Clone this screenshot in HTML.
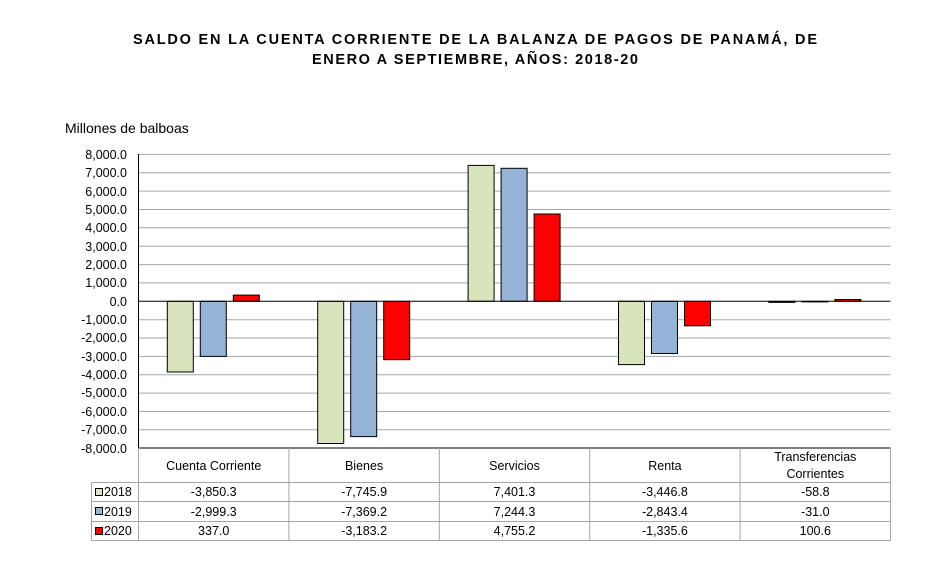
<!DOCTYPE html>
<html><head><meta charset="utf-8"><style>
body{margin:0;background:#fff;}
svg{display:block;font-family:"Liberation Sans",Arial,sans-serif;}
</style></head><body>
<svg width="926" height="583" viewBox="0 0 926 583" xmlns="http://www.w3.org/2000/svg">
<rect width="926" height="583" fill="#fff"/>
<text x="133" y="44" font-size="14.5" font-weight="bold" textLength="684" lengthAdjust="spacing">SALDO  EN  LA  CUENTA  CORRIENTE  DE  LA  BALANZA  DE  PAGOS  DE  PANAMÁ,  DE</text>
<text x="312" y="64" font-size="14.5" font-weight="bold" textLength="326" lengthAdjust="spacing">ENERO  A  SEPTIEMBRE,  AÑOS:  2018-20</text>
<text x="65" y="133" font-size="14">Millones de balboas</text>
<g stroke="#a6a6a6" stroke-width="1">
<line x1="138.5" x2="890.5" y1="154.4" y2="154.4"/>
<line x1="138.5" x2="890.5" y1="172.8" y2="172.8"/>
<line x1="138.5" x2="890.5" y1="191.1" y2="191.1"/>
<line x1="138.5" x2="890.5" y1="209.5" y2="209.5"/>
<line x1="138.5" x2="890.5" y1="227.8" y2="227.8"/>
<line x1="138.5" x2="890.5" y1="246.2" y2="246.2"/>
<line x1="138.5" x2="890.5" y1="264.6" y2="264.6"/>
<line x1="138.5" x2="890.5" y1="282.9" y2="282.9"/>
<line x1="138.5" x2="890.5" y1="319.7" y2="319.7"/>
<line x1="138.5" x2="890.5" y1="338.0" y2="338.0"/>
<line x1="138.5" x2="890.5" y1="356.4" y2="356.4"/>
<line x1="138.5" x2="890.5" y1="374.7" y2="374.7"/>
<line x1="138.5" x2="890.5" y1="393.1" y2="393.1"/>
<line x1="138.5" x2="890.5" y1="411.5" y2="411.5"/>
<line x1="138.5" x2="890.5" y1="429.8" y2="429.8"/>
</g>
<g font-size="12.5" text-anchor="end">
<text x="127" y="159">8,000.0</text><text x="127" y="177">7,000.0</text><text x="127" y="196">6,000.0</text><text x="127" y="214">5,000.0</text><text x="127" y="232">4,000.0</text><text x="127" y="251">3,000.0</text><text x="127" y="269">2,000.0</text><text x="127" y="287">1,000.0</text><text x="127" y="306">0.0</text><text x="127" y="324">-1,000.0</text><text x="127" y="342">-2,000.0</text><text x="127" y="361">-3,000.0</text><text x="127" y="379">-4,000.0</text><text x="127" y="397">-5,000.0</text><text x="127" y="416">-6,000.0</text><text x="127" y="434">-7,000.0</text><text x="127" y="453">-8,000.0</text>
</g>
<g stroke="#000" stroke-width="1">
<rect x="167.3" y="301.3" width="26" height="70.7" fill="#d8e4bc"/>
<rect x="200.3" y="301.3" width="26" height="55.1" fill="#95b3d7"/>
<rect x="233.3" y="295.1" width="26" height="6.2" fill="#ff0000"/>
<rect x="317.7" y="301.3" width="26" height="142.2" fill="#d8e4bc"/>
<rect x="350.7" y="301.3" width="26" height="135.3" fill="#95b3d7"/>
<rect x="383.7" y="301.3" width="26" height="58.4" fill="#ff0000"/>
<rect x="468.1" y="165.4" width="26" height="135.9" fill="#d8e4bc"/>
<rect x="501.1" y="168.3" width="26" height="133.0" fill="#95b3d7"/>
<rect x="534.1" y="214.0" width="26" height="87.3" fill="#ff0000"/>
<rect x="618.5" y="301.3" width="26" height="63.3" fill="#d8e4bc"/>
<rect x="651.5" y="301.3" width="26" height="52.2" fill="#95b3d7"/>
<rect x="684.5" y="301.3" width="26" height="24.5" fill="#ff0000"/>
<rect x="768.9" y="301.3" width="26" height="1.1" fill="#d8e4bc"/>
<rect x="801.9" y="301.3" width="26" height="0.6" fill="#95b3d7"/>
<rect x="834.9" y="299.5" width="26" height="1.8" fill="#ff0000"/>
</g>
<line x1="138.5" x2="890.5" y1="301.3" y2="301.3" stroke="#000"/>
<line x1="138.5" x2="138.5" y1="154" y2="448" stroke="#000"/>
<line x1="138.5" x2="890.5" y1="448" y2="448" stroke="#000"/>
<g stroke="#a6a6a6" stroke-width="1" fill="none">
<line x1="91.5" x2="890.5" y1="482.5" y2="482.5"/>
<line x1="91.5" x2="890.5" y1="501.5" y2="501.5"/>
<line x1="91.5" x2="890.5" y1="521.5" y2="521.5"/>
<line x1="91.5" x2="890.5" y1="540.5" y2="540.5"/>
<line x1="91.5" x2="91.5" y1="482.5" y2="540.5"/>
<line x1="890.5" x2="890.5" y1="448" y2="540.5"/>
<line x1="288.9" x2="288.9" y1="448" y2="540.5"/>
<line x1="439.3" x2="439.3" y1="448" y2="540.5"/>
<line x1="589.7" x2="589.7" y1="448" y2="540.5"/>
<line x1="740.1" x2="740.1" y1="448" y2="540.5"/>
</g>
<line x1="138.5" x2="138.5" y1="448" y2="540.5" stroke="#a6a6a6"/>
<g font-size="12.5" text-anchor="middle">
<text x="213.7" y="470">Cuenta Corriente</text>
<text x="364.1" y="470">Bienes</text>
<text x="514.5" y="470">Servicios</text>
<text x="664.9" y="470">Renta</text>
<text x="815.3" y="461">Transferencias</text>
<text x="815.3" y="478">Corrientes</text>
<text x="213.7" y="496">-3,850.3</text><text x="364.1" y="496">-7,745.9</text><text x="514.5" y="496">7,401.3</text><text x="664.9" y="496">-3,446.8</text><text x="815.3" y="496">-58.8</text>
<text x="213.7" y="516">-2,999.3</text><text x="364.1" y="516">-7,369.2</text><text x="514.5" y="516">7,244.3</text><text x="664.9" y="516">-2,843.4</text><text x="815.3" y="516">-31.0</text>
<text x="213.7" y="535">337.0</text><text x="364.1" y="535">-3,183.2</text><text x="514.5" y="535">4,755.2</text><text x="664.9" y="535">-1,335.6</text><text x="815.3" y="535">100.6</text>
</g>
<g stroke="#000" stroke-width="1">
<rect x="95.5" y="488.5" width="7" height="7" fill="#d8e4bc"/>
<rect x="95.5" y="507.5" width="7" height="7" fill="#95b3d7"/>
<rect x="95.5" y="527.5" width="7" height="7" fill="#ff0000"/>
</g>
<g font-size="12.5">
<text x="104" y="496">2018</text>
<text x="104" y="516">2019</text>
<text x="104" y="535">2020</text>
</g>
</svg>
</body></html>
